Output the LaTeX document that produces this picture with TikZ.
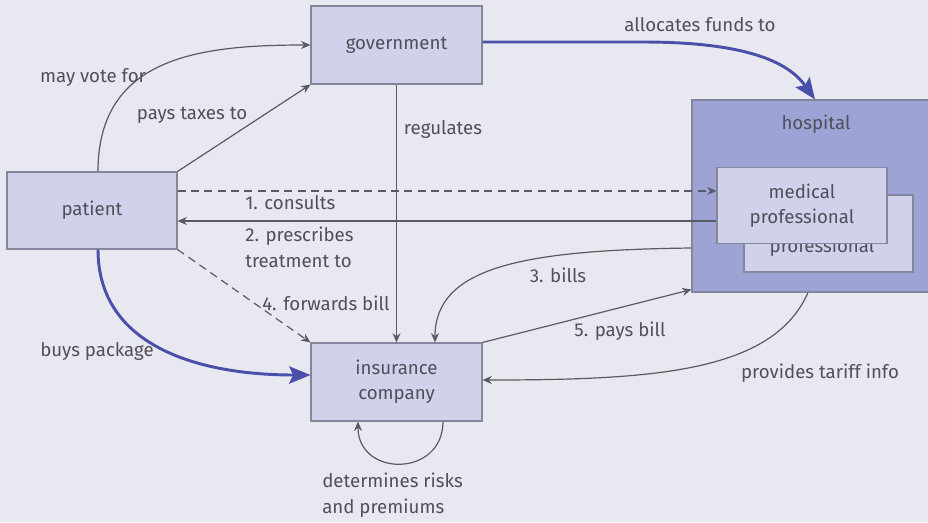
\documentclass[tikz,border=0pt]{standalone}
\usepackage{fontspec}
\setmainfont{Fira Sans}
\usetikzlibrary{arrows.meta,calc}
\definecolor{bgc}{HTML}{E8E9F0}
\definecolor{boxc}{HTML}{D0D1EA}
\definecolor{hospc}{HTML}{9EA3D5}
\definecolor{bordc}{HTML}{85869A}
\definecolor{txtc}{HTML}{50505A}
\definecolor{bluec}{HTML}{4A4FAA}
\definecolor{linec}{HTML}{5A5A66}
\tikzset{
  box/.style={draw=bordc, fill=boxc, line width=0.8pt, text=txtc, align=center, inner sep=0pt},
  lab/.style={text=txtc, inner sep=0pt},
  gline/.style={draw=linec, line width=0.9pt, -{Stealth[length=7pt,width=6pt]}},
  bline/.style={draw=bluec, line width=2.2pt, -{Stealth[length=16pt,width=13pt,inset=3pt]}},
}
\begin{document}
\begin{tikzpicture}[x=0.75pt,y=-0.75pt, font=\fontsize{14}{19}\selectfont]
\useasboundingbox (0,0) rectangle (928,522);
\clip (0,0) rectangle (928,522);
\fill[bgc] (0,0) rectangle (928,522);

% nodes
\node[box, minimum width=127.5pt, minimum height=57.75pt] (patient) at (92,210.5) {patient};
\node[box, minimum width=128.25pt, minimum height=58.5pt] (gov) at (396.5,45) {government};
\node[box, minimum width=128.25pt, minimum height=58.5pt] (ins) at (396.5,382) {insurance\\company};
\node[box, fill=hospc, minimum width=182.25pt, minimum height=144pt] (hosp) at (813.5,196) {};
\node[lab] (hosplab) at (816,124) {hospital};
\node[box, minimum width=126.75pt, minimum height=57.75pt] (medb) at (828.5,233.5) {};
\node[lab] (medbtxt) at (822,247) {professional};
\node[box, minimum width=127.5pt, minimum height=57pt] (med) at (802,205.5) {medical\\professional};

% coordinates
\coordinate (pvote) at ($(patient.north)+(6,0)$);
\coordinate (pbuy) at ($(patient.south)+(6,0)$);
\coordinate (gfund) at ($(gov.east)+(0,-3)$);
\coordinate (hfund) at ($(hosp.north)+(1.5,0)$);
\coordinate (pcons) at ($(patient.east)+(0,-19.5)$);
\coordinate (mcons) at (med.west |- pcons);
\coordinate (mpres) at ($(med.west)+(0,15.5)$);
\coordinate (ppres) at (patient.east |- mpres);
\coordinate (hbill) at ($(hosp.west)+(0,52)$);
\coordinate (ibill) at ($(ins.north)+(38.5,0)$);
\coordinate (hpay) at ($(hosp.south west)+(0,-3)$);
\coordinate (htar) at ($(hosp.south)+(-5.5,0)$);
\coordinate (itar) at ($(ins.east)+(0,-2)$);
\coordinate (ibuy) at ($(ins.west)+(0,-7)$);
\coordinate (iloopa) at ($(ins.south)+(46.5,0)$);
\coordinate (iloopb) at ($(ins.south)+(-38.5,0)$);

% connectors
\draw[gline] (pvote) .. controls ($(pvote)+(0,-115)$) and ($(gov.west)+(-110,0)$) .. (gov.west);
\draw[gline] (patient.north east) -- (gov.south west);
\draw[bline] (gfund) -- ($(gfund)+(160,0)$) .. controls ($(gfund)+(270,0)$) and ($(hfund)+(-25,-35)$) .. (hfund);
\draw[gline] (gov.south) -- (ins.north);
\draw[gline, dashed, dash pattern=on 6pt off 4pt] (pcons) -- (mcons);
\draw[gline] (mpres) -- (ppres);
\draw[gline] (hbill) .. controls ($(hbill)+(-170,2)$) and ($(ibill)+(0,-75)$) .. (ibill);
\draw[gline, dashed, dash pattern=on 6pt off 4pt] (patient.south east) -- (ins.north west);
\draw[gline] (ins.north east) -- (hpay);
\draw[gline] (htar) .. controls ($(htar)+(-35,80)$) and ($(itar)+(170,0)$) .. (itar);
\draw[bline] (pbuy) .. controls ($(pbuy)+(0,95)$) and ($(ibuy)+(-115,0)$) .. (ibuy);
\draw[gline] (iloopa) .. controls ($(iloopa)+(0,56)$) and ($(iloopb)+(0,56)$) .. (iloopb);

% labels
\node[lab] (l1) at (93,77) {may vote for};
\node[lab] (l2) at (192,115) {pays taxes to};
\node[lab] (l3) at (700,25) {allocates funds to};
\node[lab] (l4) at (443,129) {regulates};
\node[lab, anchor=west] (l5) at (245,203) {1. consults};
\node[lab, anchor=north west, align=left] (l6) at (245,227) {2. prescribes\\treatment to};
\node[lab] (l7) at (558,275) {3. bills};
\node[lab, anchor=west] (l8) at (262,303) {4. forwards bill};
\node[lab] (l9) at (620,331) {5. pays bill};
\node[lab] (l10) at (820,373) {provides tariff info};
\node[lab] (l11) at (97,351) {buys package};
\node[lab, anchor=north west, align=left] (l12) at (322,473) {determines risks\\and premiums};
\end{tikzpicture}
\end{document}
